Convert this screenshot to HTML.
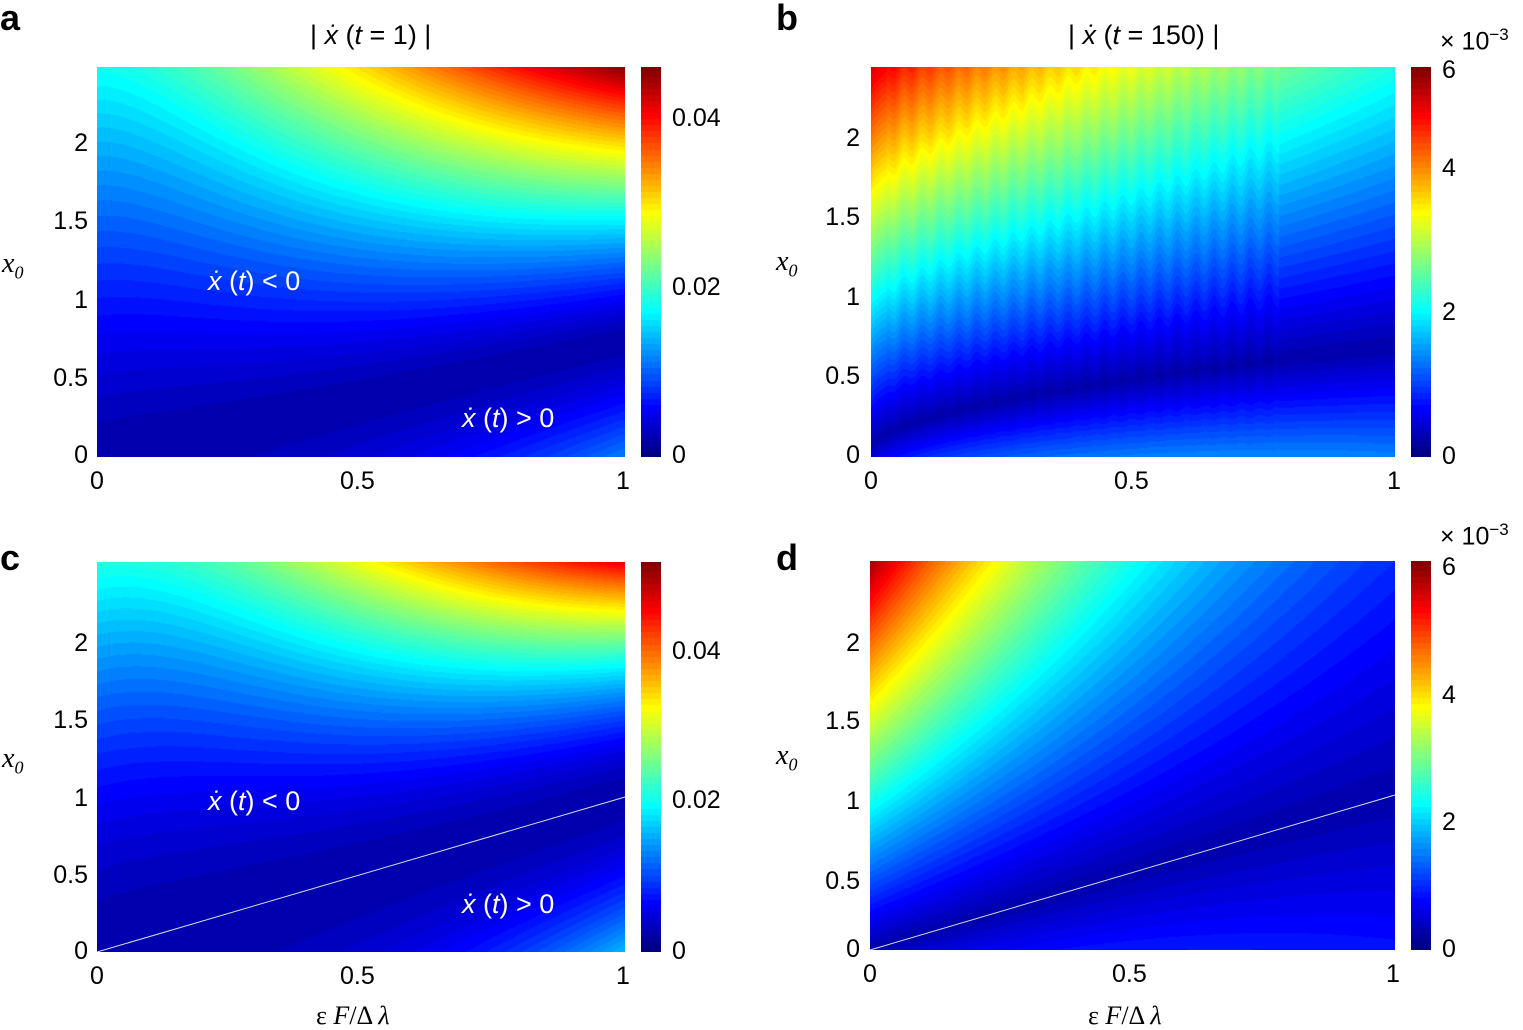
<!DOCTYPE html>
<html><head><meta charset="utf-8"><style>
body{margin:0;width:1523px;height:1028px;background:#fff;position:relative;overflow:hidden;font-family:"Liberation Sans",sans-serif;color:#000}
canvas{position:absolute}
.t{position:absolute;font-size:25px;line-height:1;white-space:nowrap}
.r{text-align:right;width:60px}
.L{position:absolute;font-size:36px;font-weight:bold;line-height:1}
.w{position:absolute;color:#fff;font-size:27px;white-space:nowrap;line-height:1}
.i{font-style:italic}
</style></head><body>
<canvas id="a" width="528" height="390" style="left:97px;top:67px"></canvas>
<canvas id="b" width="524" height="390" style="left:871px;top:67px"></canvas>
<canvas id="c" width="528" height="390" style="left:97px;top:562px"></canvas>
<canvas id="d" width="525" height="389" style="left:870px;top:561px"></canvas>
<canvas id="ca" width="20" height="390" style="left:641px;top:67px"></canvas>
<canvas id="cb" width="20" height="390" style="left:1411px;top:67px"></canvas>
<canvas id="cc" width="20" height="390" style="left:641px;top:562px"></canvas>
<canvas id="cd" width="20" height="389" style="left:1411px;top:561px"></canvas>
<svg style="position:absolute;left:0;top:0" width="1523" height="1028">
<line x1="97" y1="952" x2="625" y2="797" stroke="#ddd" stroke-width="1"/>
<line x1="870" y1="950" x2="1395" y2="795" stroke="#ddd" stroke-width="1"/>
</svg>
<div class="L" style="left:0;top:0">a</div><div class="L" style="left:776px;top:0">b</div>
<div class="L" style="left:0;top:540px">c</div><div class="L" style="left:776px;top:540px">d</div>
<div class="t" style="left:310px;top:22px;font-size:27px">| <span class="i">ẋ</span> (<span class="i">t</span> = 1) |</div>
<div class="t" style="left:1068px;top:22px;font-size:27px">| <span class="i">ẋ</span> (<span class="i">t</span> = 150) |</div>
<div class="t" style="left:1440px;top:26px">× 10<sup style="font-size:17px">−3</sup></div>
<div class="t" style="left:1440px;top:521px">× 10<sup style="font-size:17px">−3</sup></div>
<div class="t r" style="left:28px;top:131px">2</div><div class="t r" style="left:28px;top:209px">1.5</div><div class="t r" style="left:28px;top:288px">1</div><div class="t r" style="left:28px;top:366px">0.5</div><div class="t r" style="left:28px;top:443px">0</div>
<div class="t r" style="left:800px;top:126px">2</div><div class="t r" style="left:800px;top:205px">1.5</div><div class="t r" style="left:800px;top:285px">1</div><div class="t r" style="left:800px;top:364px">0.5</div><div class="t r" style="left:800px;top:443px">0</div>
<div class="t r" style="left:28px;top:631px">2</div><div class="t r" style="left:28px;top:708px">1.5</div><div class="t r" style="left:28px;top:786px">1</div><div class="t r" style="left:28px;top:863px">0.5</div><div class="t r" style="left:28px;top:939px">0</div>
<div class="t r" style="left:800px;top:631px">2</div><div class="t r" style="left:800px;top:709px">1.5</div><div class="t r" style="left:800px;top:789px">1</div><div class="t r" style="left:800px;top:869px">0.5</div><div class="t r" style="left:800px;top:937px">0</div>
<div class="t" style="left:90px;top:469px">0</div><div class="t" style="left:340px;top:469px">0.5</div><div class="t" style="left:616px;top:469px">1</div>
<div class="t" style="left:864px;top:469px">0</div><div class="t" style="left:1114px;top:469px">0.5</div><div class="t" style="left:1387px;top:469px">1</div>
<div class="t" style="left:90px;top:964px">0</div><div class="t" style="left:340px;top:964px">0.5</div><div class="t" style="left:616px;top:964px">1</div>
<div class="t" style="left:863px;top:962px">0</div><div class="t" style="left:1112px;top:962px">0.5</div><div class="t" style="left:1386px;top:962px">1</div>
<div class="t" style="left:672px;top:106px">0.04</div><div class="t" style="left:672px;top:275px">0.02</div><div class="t" style="left:672px;top:443px">0</div>
<div class="t" style="left:1442px;top:58px">6</div><div class="t" style="left:1442px;top:156px">4</div><div class="t" style="left:1442px;top:300px">2</div><div class="t" style="left:1442px;top:444px">0</div>
<div class="t" style="left:672px;top:639px">0.04</div><div class="t" style="left:672px;top:788px">0.02</div><div class="t" style="left:672px;top:939px">0</div>
<div class="t" style="left:1442px;top:555px">6</div><div class="t" style="left:1442px;top:683px">4</div><div class="t" style="left:1442px;top:810px">2</div><div class="t" style="left:1442px;top:937px">0</div>
<div class="t i" style="left:2px;top:250px;font-family:'Liberation Serif',serif;font-size:28px">x<sub style="font-size:18px">0</sub></div>
<div class="t i" style="left:776px;top:248px;font-family:'Liberation Serif',serif;font-size:28px">x<sub style="font-size:18px">0</sub></div>
<div class="t i" style="left:2px;top:745px;font-family:'Liberation Serif',serif;font-size:28px">x<sub style="font-size:18px">0</sub></div>
<div class="t i" style="left:776px;top:742px;font-family:'Liberation Serif',serif;font-size:28px">x<sub style="font-size:18px">0</sub></div>
<div class="t" style="left:316px;top:1003px;font-family:'Liberation Serif',serif;font-size:26px">ε <i>F</i>/Δ <i>λ</i></div>
<div class="t" style="left:1088px;top:1003px;font-family:'Liberation Serif',serif;font-size:26px">ε <i>F</i>/Δ <i>λ</i></div>
<div class="w" style="left:208px;top:268px"><i>ẋ</i> (<i>t</i>) &lt; 0</div>
<div class="w" style="left:462px;top:405px"><i>ẋ</i> (<i>t</i>) &gt; 0</div>
<div class="w" style="left:208px;top:788px"><i>ẋ</i> (<i>t</i>) &lt; 0</div>
<div class="w" style="left:462px;top:891px"><i>ẋ</i> (<i>t</i>) &gt; 0</div>
<script>
function jet(v){v=Math.max(0,Math.min(1,v));
 function c(x){return Math.max(0,Math.min(1,1.5-Math.abs(x)))*255;}
 return [c(4*v-3),c(4*v-2),c(4*v-1)];}
function draw(id,f){var cv=document.getElementById(id),ctx=cv.getContext('2d'),W=cv.width,H=cv.height,im=ctx.createImageData(W,H),d=im.data;
 for(var y=0;y<H;y++)for(var x=0;x<W;x++){var u=x/(W-1),v=2.5*(1-y/(H-1));var q=Math.round(f(u,v)*64)/64;var col=jet(q),k=4*(y*W+x);d[k]=col[0];d[k+1]=col[1];d[k+2]=col[2];d[k+3]=255;}
 ctx.putImageData(im,0,0);}
function cbar(id){draw(id,function(u,v){return v/2.5;});}
['ca','cb','cc','cd'].forEach(cbar);
draw('a',function(u,v){var s=0.75*u,dd=Math.abs(v-s);var c=0.106+0.354*Math.pow(u,1.5);return 0.04+c*Math.pow(dd,1.3)*(v<s?0.65:1);});
draw('c',function(u,v){var dd=Math.abs(v-u);var c=0.085+0.36*Math.pow(u,1.8);return 0.04+c*Math.pow(dd,1.6)*(v<u?0.6:1);});
draw('d',function(u,v){var dd=Math.abs(v-u);var c=0.37*Math.exp(-1.5*u);return 0.04+c*dd*(v<u?1.2:1);});
draw('b',function(u,v){var s=0.05+0.65*Math.pow(u,0.55),dd=Math.abs(v-s);var c=0.36-0.16*u;
 var st=(u>0.03&&u<0.78)?0.012*Math.sin(u*180)*Math.min(1,v):0;
 return 0.04+c*dd*(v<s?1.5:1)+st;});
</script>
</body></html>
